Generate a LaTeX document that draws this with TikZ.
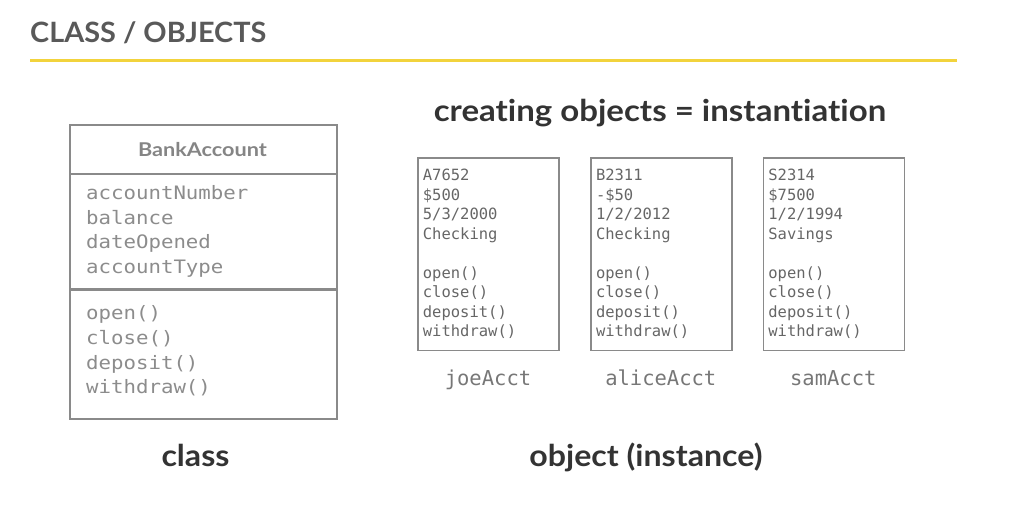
\documentclass[tikz,border=0pt]{standalone}
\usepackage{fontspec}
\setmainfont{Lato}[Ligatures=NoCommon]
\newfontfamily\titlefont{Lato}[Ligatures=NoCommon, FakeStretch=1.03]
\newfontfamily\headfont{Lato}[Ligatures=NoCommon, FakeStretch=1.10]
\newfontfamily\capfont{Lato}[Ligatures=NoCommon, FakeStretch=1.07]
\newfontfamily\umlfont{Lato}[Ligatures=NoCommon, FakeStretch=1.14]
\newfontfamily\codefont{DejaVu Sans Mono}
\newfontfamily\widecode[FakeStretch=1.12]{DejaVu Sans Mono}
\definecolor{titlegray}{HTML}{595959}
\definecolor{headdark}{HTML}{333333}
\definecolor{rulegold}{HTML}{F2D33C}
\definecolor{boxline}{HTML}{8A8A8A}
\definecolor{clstext}{HTML}{8C8C8C}
\definecolor{objtext}{HTML}{666666}
\definecolor{lbltext}{HTML}{777777}
\tikzset{
  umlbox/.style={draw=boxline, line width=2pt, anchor=north west, inner sep=0pt},
  objbox/.style={draw=boxline, line width=1.5pt, anchor=north west, inner sep=0pt,
    minimum width=141pt, minimum height=192.7pt},
  txt/.style={anchor=base west, inner sep=0pt},
  clsline/.style={txt, text=clstext, font=\widecode\fontsize{18.5}{20}\selectfont},
  objline/.style={txt, text=objtext, font=\codefont\fontsize{15.5}{17}\selectfont},
  objname/.style={anchor=base, inner sep=0pt, text=lbltext, font=\codefont\fontsize{20.5}{22}\selectfont},
  bighead/.style={anchor=base, inner sep=0pt, text=headdark, font=\headfont\bfseries\fontsize{30}{32}\selectfont},
  caption/.style={bighead, font=\capfont\bfseries\fontsize{30}{32}\selectfont},
}
\begin{document}
\begin{tikzpicture}[x=1pt, y=-1pt]
\useasboundingbox (0,0) rectangle (1010,510);

% slide title and rule
\node[anchor=base west, inner sep=0pt, text=titlegray, font=\titlefont\bfseries\fontsize{28}{30}\selectfont]
  (title) at (30,42.7) {CLASS / OBJECTS};
\coordinate (ruleL) at (30,61);
\coordinate (ruleR) at (957,61);
\draw[rulegold, line width=3pt] (ruleL) -- (ruleR);

% class diagram
\node[umlbox, minimum width=266.7pt, minimum height=293.4pt] (cls) at (69.3,124.3) {};
\coordinate (divA) at (69.3,174.3);
\coordinate (divB) at (69.3,290);
\draw[boxline, line width=2pt] (divA) -- (divA -| cls.east);
\draw[boxline, line width=3pt] (divB) -- (divB -| cls.east);
\node[anchor=base, inner sep=0pt, text=clstext!95!black, font=\umlfont\bfseries\fontsize{19}{20}\selectfont]
  (clsname) at (202.5,156.7) {BankAccount};
\foreach \t/\y [count=\i] in {accountNumber/199.8, balance/224.3, dateOpened/248.8, accountType/273.3}
  \node[clsline] (attr\i) at (86,\y) {\t};
\foreach \t/\y [count=\i] in {open()/319.5, close()/344.3, deposit()/369.1, withdraw()/393.9}
  \node[clsline] (meth\i) at (86,\y) {\t};

% heading over the objects
\node[bighead] (inst) at (660,121.7) {creating objects = instantiation};

% object instances
\node[objbox] (joe) at (417.3,157.3) {};
\node[objbox] (alice) at (590.4,157.3) {};
\node[objbox] (sam) at (762.8,157.3) {};

\foreach \obj/\a/\b/\c/\d in {joe/A7652/\$500/5\slash 3\slash 2000/Checking,
                              alice/B2311/-\$50/1\slash 2\slash 2012/Checking,
                              sam/S2314/\$7500/1\slash 2\slash 1994/Savings}{
  \path (\obj.north west) ++(5.4,23.7)  node[objline] (\obj-l1) {\a};
  \path (\obj.north west) ++(5.4,43.2)  node[objline] (\obj-l2) {\b};
  \path (\obj.north west) ++(5.4,62.7)  node[objline] (\obj-l3) {\c};
  \path (\obj.north west) ++(5.4,82.2)  node[objline] (\obj-l4) {\d};
  \path (\obj.north west) ++(5.4,121.2) node[objline] (\obj-m1) {open()};
  \path (\obj.north west) ++(5.4,140.7) node[objline] (\obj-m2) {close()};
  \path (\obj.north west) ++(5.4,160.2) node[objline] (\obj-m3) {deposit()};
  \path (\obj.north west) ++(5.4,179.7) node[objline] (\obj-m4) {withdraw()};
}

\node[objname] (joelbl) at (488,386) {joeAcct};
\node[objname] (alicelbl) at (660.8,386) {aliceAcct};
\node[objname] (samlbl) at (833.3,386) {samAcct};

% captions
\node[caption] (capclass) at (195.5,466.7) {class};
\node[caption] (capobj) at (646,466.7) {object (instance)};
\end{tikzpicture}
\end{document}
